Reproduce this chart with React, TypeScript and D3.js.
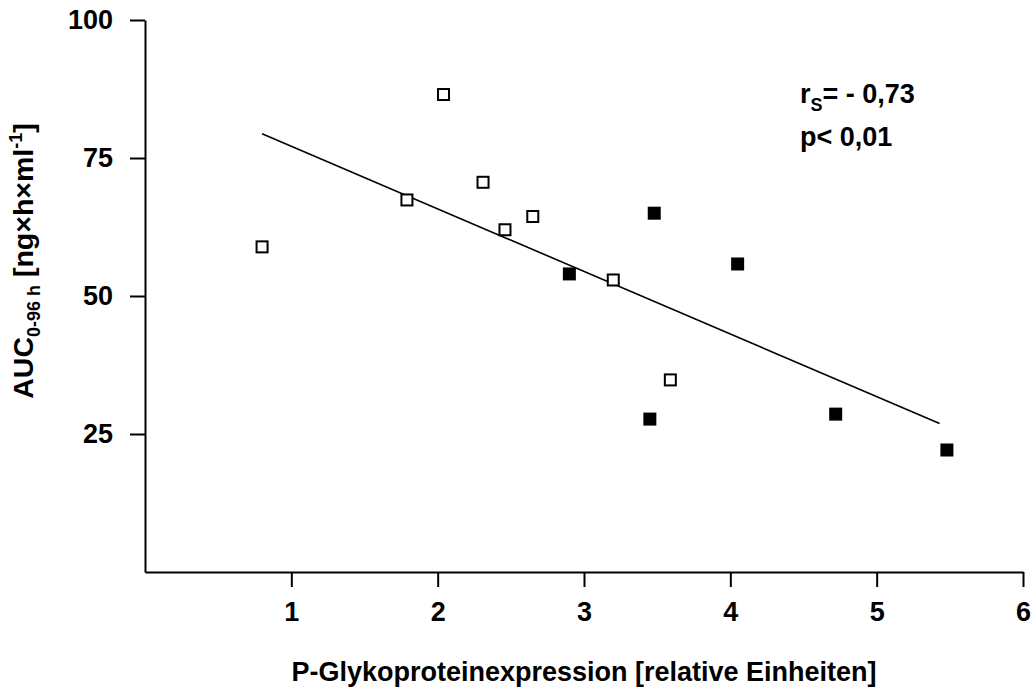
import React, { useEffect, useRef } from "react";
import * as d3 from "d3";

// open squares
const openX = [0.8, 1.79, 2.04, 2.31, 2.46, 2.65, 3.2, 3.59];
const openY = [58.9, 67.4, 86.5, 70.6, 62.0, 64.4, 52.9, 34.8];
// filled squares
const filledX = [2.9, 3.45, 3.48, 4.05, 4.72, 5.48];
const filledY = [54.0, 27.7, 65.0, 55.8, 28.6, 22.1];
// regression line end points
const fitX = [0.8, 5.43];
const fitY = [79.4, 26.9];

const xTicks = [1, 2, 3, 4, 5, 6];
const yTicks = [25, 50, 75, 100];

const FONT = "'Liberation Sans', Arial, Helvetica, sans-serif";

export default function App() {
  const svgRef = useRef<SVGSVGElement>(null);

  useEffect(() => {
    const width = 1031;
    const height = 689;
    const svg = d3.select(svgRef.current);
    svg.selectAll("*").remove();
    svg.attr("width", width).attr("height", height);

    const x = d3.scaleLinear().domain([0, 6]).range([145, 1023]);
    const y = d3.scaleLinear().domain([0, 100]).range([572, 20]);

    const xAxis = svg
      .append("g")
      .attr("transform", `translate(0,${y(0)})`)
      .call(
        d3
          .axisBottom(x)
          .tickValues(xTicks)
          .tickFormat(d3.format("d"))
          .tickSize(15)
          .tickSizeOuter(0)
          .tickPadding(15)
      );

    const yAxis = svg
      .append("g")
      .attr("transform", `translate(${x(0)},0)`)
      .call(
        d3
          .axisLeft(y)
          .tickValues(yTicks)
          .tickFormat(d3.format("d"))
          .tickSize(15)
          .tickSizeOuter(0)
          .tickPadding(17)
      );

    [xAxis, yAxis].forEach((g) => {
      g.select(".domain").attr("stroke", "#000").attr("stroke-width", 2);
      g.selectAll(".tick line").attr("stroke", "#000").attr("stroke-width", 2);
      g.selectAll(".tick text")
        .attr("fill", "#000")
        .style("font-family", FONT)
        .style("font-size", "27px")
        .style("font-weight", "bold");
    });

    // regression line
    const line = d3
      .line<number>()
      .x((d) => x(fitX[d]))
      .y((d) => y(fitY[d]));
    svg
      .append("path")
      .datum([0, 1])
      .attr("fill", "none")
      .attr("stroke", "#000")
      .attr("stroke-width", 1.6)
      .attr("d", line);

    const s = 13;
    svg
      .append("g")
      .selectAll("rect")
      .data(openX.map((v, i) => [v, openY[i]]))
      .join("rect")
      .attr("x", (d) => x(d[0]) - (s - 2) / 2)
      .attr("y", (d) => y(d[1]) - (s - 2) / 2)
      .attr("width", s - 2)
      .attr("height", s - 2)
      .attr("fill", "#fff")
      .attr("stroke", "#000")
      .attr("stroke-width", 2);

    svg
      .append("g")
      .selectAll("rect")
      .data(filledX.map((v, i) => [v, filledY[i]]))
      .join("rect")
      .attr("x", (d) => x(d[0]) - s / 2)
      .attr("y", (d) => y(d[1]) - s / 2)
      .attr("width", s)
      .attr("height", s)
      .attr("fill", "#000");

    const txt = (sel: any, size = 27) =>
      sel
        .style("font-family", FONT)
        .style("font-weight", "bold")
        .style("font-size", `${size}px`)
        .attr("fill", "#000");

    // x label
    svg
      .append("text")
      .attr("x", 584)
      .attr("y", 681)
      .attr("text-anchor", "middle")
      .call(txt)
      .text("P-Glykoproteinexpression [relative Einheiten]");

    // y label
    const yl = svg
      .append("text")
      .attr("transform", "translate(33,261) rotate(-90)")
      .attr("text-anchor", "middle")
      .call(txt, 28.5);
    yl.append("tspan").text("AUC");
    yl.append("tspan").attr("dy", 7).style("font-size", "18px").text("0-96 h");
    yl.append("tspan").attr("dy", -7).text(" [ng×h×ml");
    yl.append("tspan").attr("dy", -11).style("font-size", "18px").text("-1");
    yl.append("tspan").attr("dy", 11).text("]");

    // statistics
    const r = svg.append("text").attr("x", 800).attr("y", 103).call(txt);
    r.append("tspan").text("r");
    r.append("tspan").attr("dy", 8).style("font-size", "18px").text("S");
    r.append("tspan").attr("dy", -8).text("= - 0,73");
    svg.append("text").attr("x", 800).attr("y", 146).call(txt).text("p< 0,01");
  }, []);

  return (
    <svg
      ref={svgRef}
      style={{ position: "absolute", left: 0, top: 0, background: "#fff" }}
    ></svg>
  );
}
